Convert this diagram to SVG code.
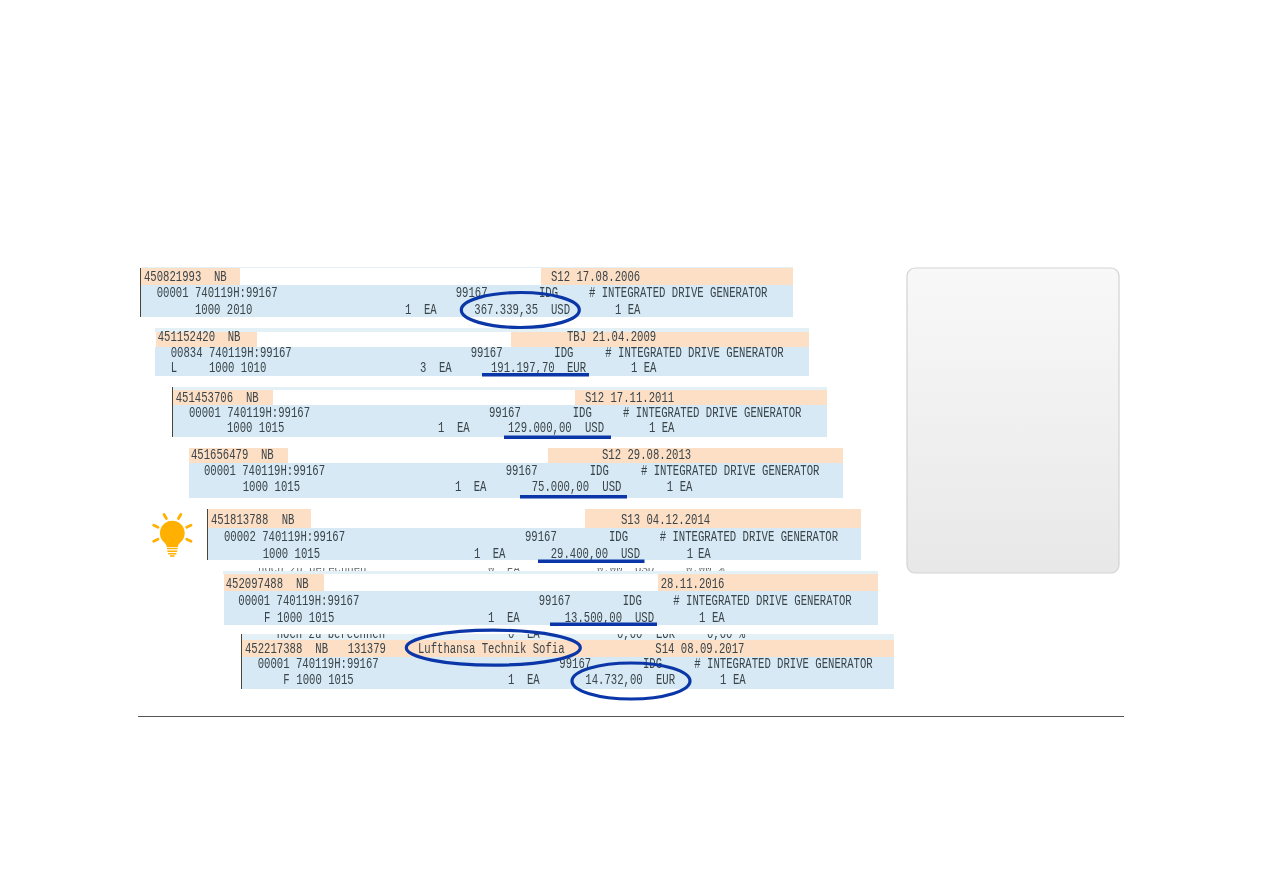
<svg xmlns="http://www.w3.org/2000/svg" width="1263" height="893" viewBox="0 0 1263 893">
<style>
.p{fill:#fcdfc4}.b{fill:#d6e9f4}.l{fill:#e3f0f6}.bar{fill:#4a4438}
text{font-family:"Liberation Mono","DejaVu Sans Mono",monospace;font-size:10.63px;fill:#3a444a;filter:url(#soft);white-space:pre;transform-box:fill-box;transform-origin:0 74%;transform:scaleY(1.36)}
text.cut{transform:none;opacity:.8}
.u{fill:#0b36a8}.e{fill:none;stroke:#0b36a8;stroke-width:3.2}
.ray{fill:none;stroke:#ffb000;stroke-width:2.8;stroke-linecap:round}
.ln{fill:none;stroke:#ffb000;stroke-width:1.5}
</style>
<defs>
<filter id="soft" x="-5%" y="-20%" width="110%" height="140%"><feGaussianBlur stdDeviation="0.3"/></filter>
<linearGradient id="pg" x1="0" y1="0" x2="0" y2="1"><stop offset="0" stop-color="#f8f8f8"/><stop offset="1" stop-color="#e8e8e8"/></linearGradient>
<clipPath id="c6"><rect x="223" y="568" width="660" height="3"/></clipPath>
<clipPath id="c7"><rect x="242" y="634" width="652" height="6"/></clipPath>
</defs>
<rect width="1263" height="893" fill="#fff"/>

<g id="row1">
<rect class="l" x="141" y="267" width="652" height="1"/>
<rect class="p" x="141" y="268" width="99" height="17"/><rect class="p" x="541" y="268" width="252" height="17"/>
<rect class="b" x="141" y="285" width="652" height="32"/><rect class="bar" x="140" y="268" width="1" height="49"/>
<text x="144" y="281.5">450821993</text><text x="214" y="281.5">NB</text><text x="551" y="281.5">S12 17.08.2006</text>
<text x="156.7" y="297.5">00001 740119H:99167</text><text x="455.7" y="297.5">99167</text><text x="539" y="297.5">IDG</text><text x="589" y="297.5"># INTEGRATED DRIVE GENERATOR</text>
<text x="195" y="313.6">1000 2010</text><text x="405" y="313.6">1</text><text x="424" y="313.6">EA</text><text x="474.3" y="313.6">367.339,35</text><text x="551" y="313.6">USD</text><text x="615" y="313.6">1</text><text x="627.7" y="313.6">EA</text>
</g>

<g id="row2">
<rect class="l" x="155" y="328" width="654" height="4"/>
<rect class="p" x="156" y="332" width="101" height="15"/><rect class="p" x="511" y="332" width="298" height="15"/>
<rect class="b" x="155" y="347" width="654" height="29"/>
<text x="157.7" y="341.4">451152420</text><text x="227.7" y="341.4">NB</text><text x="567" y="341.4">TBJ 21.04.2009</text>
<text x="170.7" y="357">00834 740119H:99167</text><text x="470.7" y="357">99167</text><text x="554.3" y="357">IDG</text><text x="605.3" y="357"># INTEGRATED DRIVE GENERATOR</text>
<text x="170.7" y="372">L</text><text x="209" y="372">1000 1010</text><text x="420" y="372">3</text><text x="439" y="372">EA</text><text x="491" y="372">191.197,70</text><text x="567" y="372">EUR</text><text x="631" y="372">1</text><text x="643.7" y="372">EA</text>
</g>

<g id="row3">
<rect class="l" x="173" y="387" width="654" height="3"/>
<rect class="p" x="173" y="390" width="100" height="15"/><rect class="p" x="575" y="390" width="252" height="15"/>
<rect class="b" x="173" y="405" width="654" height="32"/><rect x="273" y="390" width="302" height="14" fill="#fff"/><rect class="bar" x="172" y="387" width="1" height="50"/>
<text x="175.7" y="401.7">451453706</text><text x="246" y="401.7">NB</text><text x="585" y="401.7">S12 17.11.2011</text>
<text x="189" y="417">00001 740119H:99167</text><text x="489" y="417">99167</text><text x="572.7" y="417">IDG</text><text x="623" y="417"># INTEGRATED DRIVE GENERATOR</text>
<text x="227" y="432.3">1000 1015</text><text x="438" y="432.3">1</text><text x="457" y="432.3">EA</text><text x="508" y="432.3">129.000,00</text><text x="585" y="432.3">USD</text><text x="649" y="432.3">1</text><text x="661.7" y="432.3">EA</text>
</g>

<g id="row4">
<rect class="p" x="189" y="448" width="99" height="15"/><rect class="p" x="548" y="448" width="295" height="15"/>
<rect class="b" x="189" y="463" width="654" height="35"/>
<text x="191" y="459">451656479</text><text x="261" y="459">NB</text><text x="602" y="459">S12 29.08.2013</text>
<text x="204" y="475">00001 740119H:99167</text><text x="505.7" y="475">99167</text><text x="589.7" y="475">IDG</text><text x="641" y="475"># INTEGRATED DRIVE GENERATOR</text>
<text x="242.7" y="491.5">1000 1015</text><text x="455" y="491.5">1</text><text x="473.7" y="491.5">EA</text><text x="531.7" y="491.5">75.000,00</text><text x="602.3" y="491.5">USD</text><text x="666.7" y="491.5">1</text><text x="679.7" y="491.5">EA</text>
</g>

<g id="row5">
<rect class="p" x="208" y="509" width="103" height="19"/><rect class="p" x="585" y="509" width="276" height="19"/>
<rect class="b" x="208" y="528" width="653" height="32"/><rect class="bar" x="207" y="509" width="1" height="51"/>
<text x="211" y="524">451813788</text><text x="281.7" y="524">NB</text><text x="621" y="524">S13 04.12.2014</text>
<text x="224" y="541">00002 740119H:99167</text><text x="525" y="541">99167</text><text x="609" y="541">IDG</text><text x="659.7" y="541"># INTEGRATED DRIVE GENERATOR</text>
<text x="262.7" y="558.5">1000 1015</text><text x="474" y="558.5">1</text><text x="492.7" y="558.5">EA</text><text x="550.7" y="558.5">29.400,00</text><text x="621" y="558.5">USD</text><text x="686.7" y="558.5">1</text><text x="698" y="558.5">EA</text>
</g>

<g id="row6">
<g clip-path="url(#c6)"><text class="cut" x="258" y="572">noch zu berechnen</text><text class="cut" x="488" y="572">0</text><text class="cut" x="507" y="572">EA</text><text class="cut" x="597" y="572">0,00</text><text class="cut" x="635" y="572">USD</text><text class="cut" x="686" y="572">0,00 %</text></g>
<rect class="l" x="223" y="571" width="655" height="3"/>
<rect class="p" x="224" y="574" width="100" height="17"/><rect class="p" x="658" y="574" width="220" height="17"/>
<rect class="b" x="224" y="591" width="654" height="34"/>
<text x="225.7" y="588.3">452097488</text><text x="296" y="588.3">NB</text><text x="660.7" y="588.3">28.11.2016</text>
<text x="238.3" y="605.5">00001 740119H:99167</text><text x="538.7" y="605.5">99167</text><text x="622.7" y="605.5">IDG</text><text x="673.3" y="605.5"># INTEGRATED DRIVE GENERATOR</text>
<text x="264" y="622.5">F</text><text x="277" y="622.5">1000 1015</text><text x="488" y="622.5">1</text><text x="507" y="622.5">EA</text><text x="564.7" y="622.5">13.500,00</text><text x="635" y="622.5">USD</text><text x="699" y="622.5">1</text><text x="712" y="622.5">EA</text>
</g>

<g id="row7">
<rect class="l" x="242" y="634" width="652" height="6"/>
<rect class="p" x="242" y="640" width="652" height="17"/>
<rect class="b" x="242" y="657" width="652" height="32"/><rect class="bar" x="241" y="634" width="1" height="55"/>
<g clip-path="url(#c7)"><text x="276.7" y="638">noch zu berechnen</text><text x="508" y="638">0</text><text x="527" y="638">EA</text><text x="617" y="638">0,00</text><text x="656" y="638">EUR</text><text x="707" y="638">0,00 %</text></g>
<text x="245" y="652.7">452217388</text><text x="315.3" y="652.7">NB</text><text x="347.7" y="652.7">131379</text><text x="418" y="652.7">Lufthansa Technik Sofia</text><text x="655.3" y="652.7">S14 08.09.2017</text>
<text x="257.7" y="668.5">00001 740119H:99167</text><text x="559.3" y="668.5">99167</text><text x="643" y="668.5">IDG</text><text x="694.3" y="668.5"># INTEGRATED DRIVE GENERATOR</text>
<text x="283.3" y="684.5">F</text><text x="296.3" y="684.5">1000 1015</text><text x="508" y="684.5">1</text><text x="527" y="684.5">EA</text><text x="585.3" y="684.5">14.732,00</text><text x="656" y="684.5">EUR</text><text x="720" y="684.5">1</text><text x="733" y="684.5">EA</text>
</g>

<g id="highlights">
<ellipse class="e" cx="520.3" cy="310" rx="59" ry="17.5"/>
<ellipse class="e" cx="493.3" cy="647.7" rx="87" ry="17.5"/>
<ellipse class="e" cx="631" cy="681" rx="59" ry="18"/>
<rect class="u" x="482" y="373" width="107" height="3.5"/>
<rect class="u" x="504" y="435.5" width="107" height="3.5"/>
<rect class="u" x="520" y="495" width="107" height="3.5"/>
<rect class="u" x="538" y="559.5" width="106.5" height="3.5"/>
<rect class="u" x="550" y="622.5" width="107" height="3.5"/>
</g>

<g id="bulb">
<path d="M172.3 520.7a12.5 12.5 0 0 1 7.6 22.4c-1.4 1.2-1.9 2.4-2.1 4h-11c-.2-1.6-.7-2.8-2.1-4a12.5 12.5 0 0 1 7.6-22.4z" fill="#ffb000"/>
<path class="ln" d="M167 548.6h10.6M167.4 551.2h9.8M168.2 553.8h8.2M170 556h4.6"/>
<path class="ray" d="M164 514.5l2.4 4M180.8 514.5l-2.4 4M153.7 525.2l4.3 2M191 525.2l-4.3 2M153.7 541.2l4.3-2M191 541.2l-4.3-2"/>
</g>

<g id="panel"><rect x="907" y="268" width="212" height="305" rx="8" fill="url(#pg)" stroke="#d3d3d3" stroke-width="1.2"/></g>
<g id="connectors"><line x1="138" y1="716.5" x2="1124" y2="716.5" stroke="#555" stroke-width="1"/></g>
</svg>
